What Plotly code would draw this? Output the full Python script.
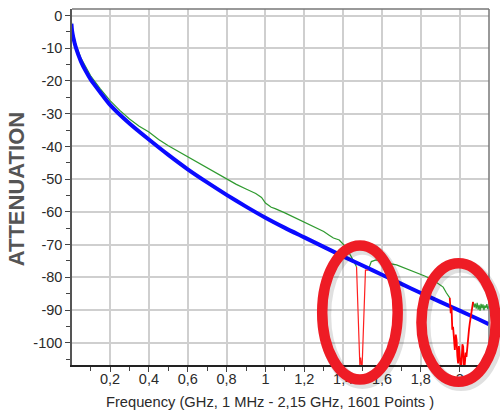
import plotly.graph_objects as go

# ---- data ----
blue_f = [0.001, 0.004, 0.01, 0.025, 0.05, 0.075, 0.1, 0.15, 0.2, 0.3, 0.4, 0.5, 0.6, 0.7, 0.8, 0.9,
          1.0, 1.1, 1.2, 1.3, 1.4, 1.5, 1.6, 1.7, 1.8, 1.9, 2.0, 2.1, 2.15]
blue_db = [-2.5, -4.5, -6.5, -10.0, -14.0, -17.0, -19.5, -23.5, -27.3, -33.0, -37.9, -42.6, -47.0, -51.0,
           -54.8, -58.4, -61.8, -64.9, -67.8, -70.7, -73.6, -76.4, -79.2, -82.0, -84.8,
           -87.5, -90.2, -92.9, -94.3]

green_f = [0.001, 0.01, 0.025, 0.05, 0.1, 0.15, 0.2, 0.25, 0.3, 0.35, 0.4, 0.45, 0.5, 0.55,
           0.6, 0.65, 0.7, 0.75, 0.8, 0.85, 0.9, 0.95, 0.98, 1.0, 1.03, 1.05, 1.1, 1.15,
           1.2, 1.25, 1.3, 1.33, 1.35, 1.38, 1.41, 1.44, 1.46, 1.469,
           None,
           1.529, 1.545, 1.57, 1.6, 1.64, 1.675, 1.71, 1.743, 1.786, 1.82, 1.863, 1.898,
           1.915, 1.932, 1.949,
           None,
           2.069, 2.075, 2.08, 2.085, 2.09, 2.095, 2.10, 2.105, 2.11, 2.115, 2.12, 2.125,
           2.13, 2.135, 2.14, 2.145, 2.15]
green_db = [-2.0, -5.6, -9.1, -13.0, -18.4, -22.4, -26.0, -29.0, -31.6, -33.8, -35.6, -37.9,
            -39.8, -41.5, -43.2, -44.9, -46.5, -48.4, -50.1, -51.6, -53.0, -54.4, -55.6,
            -57.3, -58.6, -59.0, -60.3, -61.7, -63.0, -64.5, -66.0, -67.2, -68.0, -68.6,
            -70.5, -73.5, -76.0, -76.8,
            None,
            -77.8, -75.2, -74.7, -75.2, -75.8, -76.2, -77.0, -77.8, -78.8, -79.6, -80.8,
            -82.4, -83.0, -84.8, -86.3,
            None,
            -87.5, -89.2, -88.0, -89.6, -87.8, -89.9, -88.4, -90.2, -88.1, -89.5, -88.3,
            -90.0, -88.6, -89.4, -88.2, -89.7, -88.8]

red1_f = [1.469, 1.474, 1.478, 1.482, 1.486, 1.490, 1.494, 1.498, 1.502, 1.507, 1.512, 1.515, 1.529]
red1_db = [-76.8, -84.0, -93.0, -101.0, -106.8, -104.5, -106.8, -106.8, -99.0, -89.0, -80.5, -77.8, -77.8]

red2_f = [1.949, 1.954, 1.958, 1.962, 1.966, 1.970, 1.975, 1.980, 1.984, 1.988, 1.992, 1.996,
          2.000, 2.004, 2.009, 2.014, 2.018, 2.022, 2.026, 2.031, 2.035, 2.039, 2.043, 2.048,
          2.052, 2.057, 2.061, 2.069]
red2_db = [-86.3, -91.0, -89.0, -96.0, -95.1, -99.5, -102.2, -97.5, -99.2, -104.0, -106.3,
           -101.0, -103.2, -106.8, -106.8, -100.5, -101.2, -106.8, -106.8, -103.0, -104.3,
           -101.0, -99.2, -96.0, -94.1, -92.0, -90.0, -87.5]

x_tickvals = [0.2, 0.4, 0.6, 0.8, 1.0, 1.2, 1.4, 1.6, 1.8, 2.0]
x_ticktext = ["0,2", "0,4", "0,6", "0,8", "1", "1,2", "1,4", "1,6", "1,8", "2"]
y_tickvals = [0, -10, -20, -30, -40, -50, -60, -70, -80, -90, -100]
y_ticktext = ["0", "-10", "-20", "-30", "-40", "-50", "-60", "-70", "-80", "-90", "-100"]

FONT = "Liberation Sans, Arial, sans-serif"

fig = go.Figure()
fig.add_trace(go.Scatter(x=green_f, y=green_db, mode="lines",
                         line=dict(color="#2f9a2f", width=1.2), connectgaps=False,
                         hoverinfo="skip"))
fig.add_trace(go.Scatter(x=blue_f, y=blue_db, mode="lines", line_shape="spline",
                         line=dict(color="#0a0aff", width=4, smoothing=0.6), hoverinfo="skip"))
fig.add_trace(go.Scatter(x=red1_f, y=red1_db, mode="lines",
                         line=dict(color="#ff2020", width=1.2), hoverinfo="skip"))
fig.add_trace(go.Scatter(x=red2_f, y=red2_db, mode="lines",
                         line=dict(color="#ff0000", width=1.8), hoverinfo="skip"))

fig.update_layout(
    width=500, height=412,
    margin=dict(l=72, r=11, t=9, b=47, autoexpand=False),
    paper_bgcolor="white", plot_bgcolor="white",
    showlegend=False,
    font=dict(family=FONT, size=14, color="#2a2a2a"),
)
fig.update_xaxes(
    range=[0.004, 2.151], tickvals=x_tickvals, ticktext=x_ticktext,
    showgrid=True, gridcolor="#cfcfcf", gridwidth=1.6,
    showline=True, linecolor="#222222", linewidth=2,
    ticks="outside", ticklen=5, tickcolor="#444444", ticklabelstandoff=-5,
    minor=dict(dtick=0.1, tick0=0, ticks="outside", ticklen=4, tickcolor="#444444", showgrid=False),
    zeroline=False, tickfont=dict(size=14.5, color="#2a2a2a"), automargin=False,
)
fig.update_yaxes(
    range=[-106.8, 2.0], tickvals=y_tickvals, ticktext=y_ticktext,
    showgrid=True, gridcolor="#cfcfcf", gridwidth=1.6,
    showline=True, linecolor="#555555", linewidth=1.5,
    ticks="outside", ticklen=5, tickcolor="#444444",
    minor=dict(dtick=5, tick0=0, ticks="outside", ticklen=4, tickcolor="#444444", showgrid=False),
    zeroline=False, tickfont=dict(size=14.5, color="#2a2a2a"), automargin=False,
)

# frame top/right
fig.add_shape(type="line", xref="paper", yref="paper", x0=0, x1=1, y0=1, y1=1,
              line=dict(color="#777777", width=1.5))
fig.add_shape(type="line", xref="paper", yref="paper", x0=1, x1=1, y0=0, y1=1,
              line=dict(color="#777777", width=1.5))

# highlight ellipses (with soft shadow)
for (x0, x1, y0, y1) in [(0.600, 0.781, -0.041, 0.336), (0.838, 1.016, -0.047, 0.286)]:
    fig.add_shape(type="circle", xref="paper", yref="paper",
                  x0=x0 + 0.006, x1=x1 + 0.006, y0=y0 - 0.008, y1=y1 - 0.008,
                  line=dict(color="rgba(0,0,0,0.12)", width=13))
    fig.add_shape(type="circle", xref="paper", yref="paper",
                  x0=x0, x1=x1, y0=y0, y1=y1,
                  line=dict(color="#ee1c25", width=10.5))

fig.add_annotation(text="ATTENUATION", xref="paper", yref="paper",
                   x=-0.134, y=0.494, xanchor="center", yanchor="middle",
                   showarrow=False, textangle=-90,
                   font=dict(family=FONT, size=22, color="#555555", weight="bold"))
fig.add_annotation(text="Frequency (GHz, 1 MHz - 2,15 GHz, 1601 Points )", xref="paper", yref="paper",
                   x=0.476, y=-0.104, xanchor="center", yanchor="middle", showarrow=False,
                   font=dict(family=FONT, size=14.7, color="#2a2a2a"))

fig.write_html("out.html", config={"displayModeBar": False},
               post_script="document.body.style.margin='0';document.body.style.overflow='hidden';")
